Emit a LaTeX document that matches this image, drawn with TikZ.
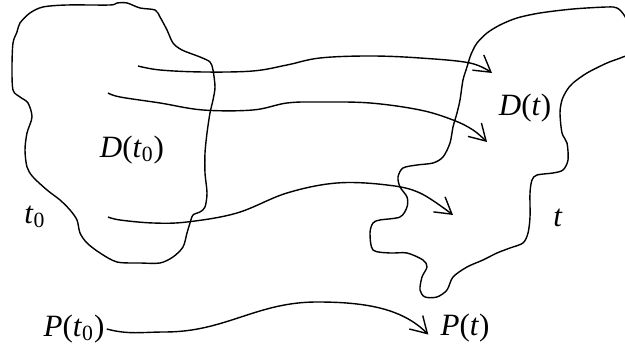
\documentclass[tikz,border=0pt]{standalone}
\usepackage{fontspec}
\setmainfont{Liberation Serif}
\usetikzlibrary{arrows.meta}
\newcommand{\vr}[1]{\textit{#1}}

\begin{document}
\begin{tikzpicture}[
  x=0.5pt, y=0.5pt,
  >={Straight Barb[length=8pt,width=9.5pt]},
  outline/.style={line width=0.7pt, line join=round},
  flow/.style={->, line width=0.7pt},
  lbl/.style={font=\fontsize{15.5}{18}\selectfont, inner sep=1pt}
]
  \useasboundingbox (0,0) rectangle (625,351);
  \clip (0,0) rectangle (625,351);

  % region at t0
  \draw[outline] plot[smooth cycle, tension=0.5] coordinates {
    (17,319) (20,328) (30,338) (43,344) (67,346) (110,346) (117,348)
    (127,348) (140,343) (155,341) (160,334) (167,321) (173,308) (182,301)
    (200,294) (210,289) (213,281) (215,264) (213,251) (210,238) (207,218)
    (205,198) (205,178) (207,158) (205,144) (200,139) (193,136) (190,128)
    (187,118) (183,104) (173,94) (160,88) (140,88) (117,89) (100,98)
    (87,108) (80,118) (77,131) (70,141) (60,151) (47,161) (33,174)
    (27,184) (25,201) (27,218) (32,234) (28,248) (20,254) (13,261)
    (12,284) (13,308)};

  % region at t
  \draw[outline] plot[smooth cycle, tension=0.5] coordinates {
    (473,301) (477,308) (487,318) (500,326) (517,333) (540,338) (573,342)
    (607,344) (617,343) (624,336) (632,320) (634,300) (623,294) (607,288)
    (587,278) (573,268) (567,261) (562,251) (560,238) (562,218) (567,208)
    (568,191) (563,181) (553,178) (537,176) (532,171) (530,158) (530,134)
    (528,118) (523,108) (510,103) (497,98) (483,91) (467,84) (453,74)
    (447,61) (437,54) (425,54) (420,61) (422,74) (427,84) (423,91)
    (407,98) (390,98) (373,101) (370,118) (373,128) (380,131) (400,134)
    (407,144) (407,154) (400,164) (398,174) (403,183) (417,186) (433,188)
    (443,194) (450,208) (453,224) (457,238) (460,251) (463,271) (467,284)
    (470,294)};

  % trajectories
  \draw[flow] plot[smooth, tension=0.6] coordinates {
    (138,285) (160,281) (203,279) (253,280) (287,286) (320,293) (370,295)
    (420,293) (470,288) (492,278)};
  \draw[flow] plot[smooth, tension=0.6] coordinates {
    (108,258) (120,254) (160,248) (203,241) (253,241) (287,248) (320,249)
    (370,248) (420,241) (453,231) (473,221) (487,209)};
  \draw[flow] plot[smooth, tension=0.6] coordinates {
    (108,134) (120,131) (153,128) (187,129) (237,138) (287,158) (337,168)
    (387,166) (420,158) (453,136)};

  % labels
  \node[lbl] (D0) at (132,201) {\vr{D}(\vr{t}\textsubscript{0})};
  \node[lbl] (t0) at (35,134) {\vr{t}\textsubscript{0}};
  \node[lbl] (Dt) at (525,243) {\vr{D}(\vr{t})};
  \node[lbl] (tt) at (558,133) {\vr{t}};

  \node[lbl] (P0) at (74,22) {\vr{P}(\vr{t}\textsubscript{0})};
  \node[lbl] (Pt) at (465,23) {\vr{P}(\vr{t})};
  \coordinate (dip) at (165,19);
  \coordinate (peak) at (317,49);
  \draw[flow, shorten >=7pt] (P0.east) to[out=-15,in=180] (dip)
    to[out=0,in=180] (peak) to[out=0,in=135] (Pt.south west);
\end{tikzpicture}
\end{document}
